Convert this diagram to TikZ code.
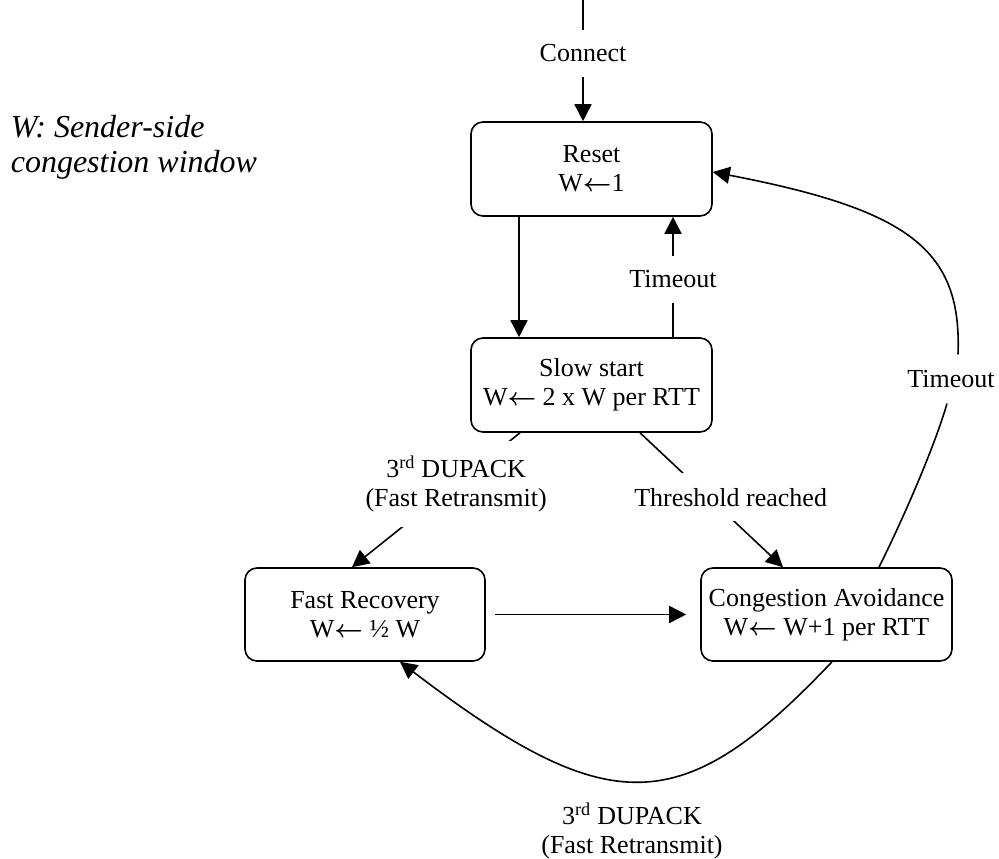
\documentclass[tikz,border=0pt]{standalone}
\usepackage{fontspec}
\usepackage{amsmath}
\setmainfont{Liberation Serif}
\usetikzlibrary{arrows.meta}
\usetikzlibrary{calc}

\newcommand{\wset}{\ensuremath{\boldsymbol{\leftarrow}}}

\begin{document}
\begin{tikzpicture}[x=1pt, y=-1pt, line width=1.6pt,
	>={Triangle[length=17pt,width=17pt]},
	every node/.style={font=\fontsize{26}{29}\selectfont},
	state/.style={draw, rounded corners=12pt, minimum width=241pt, minimum height=94pt, inner sep=0pt, align=center},
	lbl/.style={fill=white, inner xsep=2pt, inner ysep=15pt, align=center},
	legend/.style={font=\fontsize{32}{35}\selectfont\itshape, align=left, inner sep=0pt}]

	\useasboundingbox (0,0) rectangle (999,859);

	% states
	\node[state] (reset) at (591.5,169) {Reset\\W\wset1};
	\node[state] (slow) at (591.5,385) {Slow start\\W\wset{} 2 x W per RTT};
	\node[state, minimum width=240pt, minimum height=93pt] (fastrec) at (365,614.5) {Fast Recovery\\W\wset{} ½ W};
	\node[state, minimum width=251pt, minimum height=93pt] (congav) at (826.5,614.5) {Congestion Avoidance\\W\wset{} W+1 per RTT};

	% legend
	\node[legend, anchor=north west] (key) at (10,114) {W: Sender-side\\congestion window};

	% connect
	\coordinate (start) at (583,0);
	\draw[->] (start) -- node[lbl, pos=.44] (connect) {Connect} ($(reset.north)+(-8.5,0)$);

	% reset and slow start
	\draw[->] ($(reset.south)+(-72.5,0)$) -- ($(slow.north)+(-72.5,0)$);
	\draw[->] ($(slow.north)+(81.5,0)$) -- node[lbl, pos=.48] (tmoslow) {Timeout} ($(reset.south)+(81.5,0)$);

	% leaving slow start
	\draw[->] ($(slow.south)+(-71.5,0)$) -- node[lbl, pos=.38] (dupslow) {3\textsuperscript{rd} DUPACK\\(Fast Retransmit)} ($(fastrec.north)+(-13,0)$);
	\draw[->] ($(slow.south)+(48.5,0)$) -- node[lbl, pos=.48, xshift=22pt] (thresh) {Threshold reached} ($(congav.north)+(-43.5,0)$);

	% fast recovery to congestion avoidance
	\draw[->, shorten <=9pt, shorten >=14pt] (fastrec) -- (congav);

	% timeout from congestion avoidance
	\node[lbl] (tmocong) at (951,379) {Timeout};
	\draw ($(congav.north)+(52.5,0)$) .. controls (905,515) and (935,445) .. ($(tmocong.south)+(-4,0)$);
	\draw[->] ($(tmocong.north)+(7,0)$) .. controls (962,250) and (910,210) .. ($(reset.east)+(0,3)$);

	% dupack from congestion avoidance
	\draw[->] ($(congav.south)+(5.5,0)$) .. controls (682,820) and (610,821.5) .. ($(fastrec.south)+(35,0)$);
	\node[align=center, inner sep=0pt] (dupcong) at (632,831) {3\textsuperscript{rd} DUPACK\\(Fast Retransmit)};

\end{tikzpicture}
\end{document}
